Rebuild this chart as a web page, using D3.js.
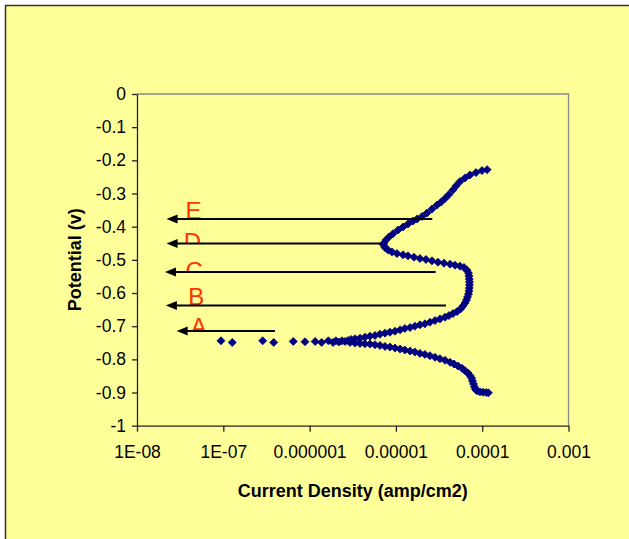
<!DOCTYPE html>
<html>
<head>
<meta charset="utf-8">
<script src="https://cdn.jsdelivr.net/npm/d3@7/dist/d3.min.js"></script>
<style>
	body { margin: 0; background: #ffffff; }
	svg { display: block; font-family: Arial, "Liberation Sans", sans-serif; }
</style>
</head>
<body>
<div id="chart"></div>
<script>
// Polarisation scan (potential in V, current density in amp/cm2)
const potential = [
	-0.228, -0.231, -0.237, -0.244, -0.253, -0.264, -0.277, -0.289, -0.303, -0.315,
	-0.326, -0.335, -0.347, -0.359, -0.369, -0.377, -0.383, -0.392, -0.401, -0.410,
	-0.421, -0.431, -0.440, -0.449, -0.455, -0.463, -0.470, -0.476, -0.481, -0.485,
	-0.488, -0.492, -0.496, -0.499, -0.503, -0.507, -0.510, -0.513, -0.516, -0.519,
	-0.523, -0.531, -0.540, -0.549, -0.558, -0.567, -0.576, -0.585, -0.594, -0.603,
	-0.612, -0.621, -0.630, -0.639, -0.648, -0.656, -0.662, -0.668, -0.673, -0.678,
	-0.683, -0.688, -0.693, -0.696, -0.700, -0.704, -0.707, -0.711, -0.715, -0.718,
	-0.721, -0.724, -0.728, -0.730, -0.733, -0.736, -0.738, -0.740,
	-0.743, -0.746, -0.744, -0.748, -0.744, -0.749, -0.744, -0.749, -0.746, -0.747,
	-0.746, -0.749, -0.744, -0.749, -0.744,
	-0.749, -0.751, -0.752, -0.753, -0.754, -0.756, -0.758, -0.761, -0.763, -0.766,
	-0.769, -0.772, -0.775, -0.778, -0.782, -0.785, -0.789, -0.794, -0.798, -0.803,
	-0.809, -0.814, -0.820, -0.827, -0.834, -0.841, -0.849, -0.856, -0.865, -0.874,
	-0.883, -0.891, -0.895, -0.898, -0.899, -0.900, -0.901
];
const currentDensity = [
	1.14e-4, 9.95e-5, 8.47e-5, 7.22e-5, 6.32e-5, 5.53e-5, 4.97e-5, 4.59e-5, 4.12e-5, 3.71e-5,
	3.33e-5, 2.99e-5, 2.62e-5, 2.29e-5, 2.01e-5, 1.76e-5, 1.58e-5, 1.38e-5, 1.21e-5, 1.06e-5,
	9.26e-6, 8.32e-6, 7.68e-6, 7.28e-6, 7.18e-6, 7.48e-6, 8.10e-6, 9.01e-6, 1.03e-5, 1.21e-5,
	1.38e-5, 1.62e-5, 1.90e-5, 2.23e-5, 2.62e-5, 3.07e-5, 3.61e-5, 4.24e-5, 4.84e-5, 5.53e-5,
	6.15e-5, 6.67e-5, 6.94e-5, 7.03e-5, 7.09e-5, 7.12e-5, 7.12e-5, 7.09e-5, 7.03e-5, 6.94e-5,
	6.76e-5, 6.58e-5, 6.32e-5, 5.99e-5, 5.61e-5, 5.11e-5, 4.59e-5, 4.12e-5, 3.71e-5, 3.24e-5,
	2.84e-5, 2.48e-5, 2.17e-5, 1.90e-5, 1.66e-5, 1.46e-5, 1.27e-5, 1.12e-5, 9.76e-6, 8.54e-6,
	7.48e-6, 6.54e-6, 5.73e-6, 5.01e-6, 4.38e-6, 3.84e-6, 3.36e-6, 3.02e-6,
	2.79e-6, 2.57e-6, 2.37e-6, 2.19e-6, 2.02e-6, 1.87e-6, 1.65e-6, 1.38e-6, 1.16e-6, 8.85e-7,
	6.47e-7, 3.84e-7, 2.86e-7, 1.27e-7, 9.40e-8,
	2.94e-6, 3.36e-6, 3.84e-6, 4.38e-6, 5.01e-6, 5.73e-6, 6.54e-6, 7.48e-6, 8.54e-6, 9.76e-6,
	1.12e-5, 1.27e-5, 1.46e-5, 1.66e-5, 1.90e-5, 2.17e-5, 2.48e-5, 2.84e-5, 3.24e-5, 3.71e-5,
	4.24e-5, 4.71e-5, 5.24e-5, 5.83e-5, 6.32e-5, 6.85e-5, 7.22e-5, 7.52e-5, 7.72e-5, 7.93e-5,
	8.14e-5, 8.36e-5, 8.71e-5, 9.43e-5, 1.02e-4, 1.11e-4, 1.18e-4
];

// Axis ticks
const xTickValues = [1e-8, 1e-7, 1e-6, 1e-5, 1e-4, 1e-3];
const xTickLabels = ['1E-08', '1E-07', '0.000001', '0.00001', '0.0001', '0.001'];
const yTickValues = [0, -0.1, -0.2, -0.3, -0.4, -0.5, -0.6, -0.7, -0.8, -0.9, -1];

// Annotation arrows (drawn right to left) and their letters
const arrowNames = ['E', 'D', 'C', 'B', 'A'];
const arrowPotential = [-0.377, -0.451, -0.537, -0.638, -0.7145];
const arrowFrom = [2.64e-5, 6.85e-6, 2.89e-5, 3.80e-5, 3.97e-7];
const arrowTo = [2.20e-8, 2.20e-8, 2.11e-8, 2.16e-8, 2.88e-8];
const labelCurrent = [3.64e-8, 3.48e-8, 3.65e-8, 3.92e-8, 4.19e-8];
const labelPotential = [-0.3765, -0.470, -0.5577, -0.6376, -0.7263];

const width = 629;
const height = 539;
const margin = { 'top': 94, 'left': 137, 'right': 60.5, 'bottom': 113.3 };
const innerWidth = width - margin.left - margin.right;
const innerHeight = height - margin.top - margin.bottom;

const svg = d3.select('#chart').append('svg')
	.attr('width', width)
	.attr('height', height);

// Chart background and frame (runs past the picture on the right and bottom)
svg.append('rect')
	.attr('x', 5.5)
	.attr('y', 5.5)
	.attr('width', width + 20)
	.attr('height', height + 20)
	.attr('fill', '#ffff99')
	.attr('stroke', '#333333')
	.attr('stroke-width', 1.5);

const x = d3.scaleLog()
	.domain([1e-8, 1e-3])
	.range([0, innerWidth]);

const y = d3.scaleLinear()
	.domain([-1, 0])
	.range([innerHeight, 0]);

const g = svg.append('g')
	.attr('transform', 'translate(' + margin.left + ',' + margin.top + ')');

// Top and right border of the plot area
g.append('path')
	.attr('d', ['M', 0, 0, 'H', innerWidth, 'V', innerHeight].join(' '))
	.attr('fill', 'none')
	.attr('stroke', '#888888')
	.attr('stroke-width', 1.3);

// Axes
const xAxis = g.append('g')
	.attr('transform', 'translate(0,' + innerHeight + ')')
	.call(d3.axisBottom(x)
		.tickValues(xTickValues)
		.tickFormat((d, i) => xTickLabels[i])
		.tickSizeInner(6)
		.tickSizeOuter(0)
		.tickPadding(14));

const yAxis = g.append('g')
	.call(d3.axisLeft(y)
		.tickValues(yTickValues)
		.tickFormat(d => String(+d.toFixed(1)))
		.tickSizeInner(5)
		.tickSizeOuter(0)
		.tickPadding(6));

[xAxis, yAxis].forEach(axis => {
	axis.select('.domain').attr('stroke', '#222222').attr('stroke-width', 1.3);
	axis.selectAll('.tick line').attr('stroke', '#222222').attr('stroke-width', 1.3);
	axis.selectAll('.tick text')
		.attr('fill', '#000000')
		.style('font-family', 'Arial, "Liberation Sans", sans-serif')
		.style('font-size', '17.5px');
});

// Axis titles
svg.append('text')
	.attr('x', margin.left + innerWidth / 2)
	.attr('y', 497)
	.attr('text-anchor', 'middle')
	.style('font-weight', 'bold')
	.style('font-size', '18px')
	.text('Current Density (amp/cm2)');

svg.append('text')
	.attr('transform', 'translate(81,' + (margin.top + innerHeight / 2) + ') rotate(-90)')
	.attr('text-anchor', 'middle')
	.style('font-weight', 'bold')
	.style('font-size', '18px')
	.text('Potential (v)');

// Letters sit behind the arrows and are cut off at the arrow line
const defs = svg.append('defs');
arrowNames.forEach((name, i) => {
	defs.append('clipPath')
		.attr('id', 'clip-' + name)
	.append('rect')
		.attr('x', 0)
		.attr('y', 0)
		.attr('width', innerWidth)
		.attr('height', y(arrowPotential[i]) - 0.5);
});

g.selectAll('text.letter')
	.data(arrowNames)
.join('text')
	.attr('class', 'letter')
	.attr('clip-path', d => 'url(#clip-' + d + ')')
	.attr('x', (d, i) => x(labelCurrent[i]))
	.attr('y', (d, i) => y(labelPotential[i]))
	.attr('fill', '#ff3300')
	.style('font-size', '24px')
	.text(d => d);

// Data markers (diamonds)
const diamond = {
	draw: function(context, size) {
		const r = Math.sqrt(size / 2);
		context.moveTo(0, -r);
		context.lineTo(r, 0);
		context.lineTo(0, r);
		context.lineTo(-r, 0);
		context.closePath();
	}
};

g.selectAll('path.point')
	.data(potential.map((v, i) => [currentDensity[i], v]))
.join('path')
	.attr('class', 'point')
	.attr('transform', d => 'translate(' + x(d[0]) + ',' + y(d[1]) + ')')
	.attr('d', d3.symbol().type(diamond).size(2 * 4 * 4))
	.attr('fill', '#000080')
	.attr('stroke', '#000080')
	.attr('stroke-width', 0.8);

// Arrows
g.selectAll('line.arrow')
	.data(arrowNames)
.join('line')
	.attr('class', 'arrow')
	.attr('x1', (d, i) => x(arrowFrom[i]))
	.attr('x2', (d, i) => x(arrowTo[i]) + 8)
	.attr('y1', (d, i) => y(arrowPotential[i]))
	.attr('y2', (d, i) => y(arrowPotential[i]))
	.attr('stroke', '#000000')
	.attr('stroke-width', 2);

g.selectAll('path.head')
	.data(arrowNames)
.join('path')
	.attr('class', 'head')
	.attr('d', (d, i) => {
		const tx = x(arrowTo[i]);
		const ty = y(arrowPotential[i]);
		return ['M', tx, ty, 'L', tx + 11, ty - 4.5, 'L', tx + 11, ty + 4.5, 'Z'].join(' ');
	})
	.attr('fill', '#000000');
</script>
</body>
</html>
